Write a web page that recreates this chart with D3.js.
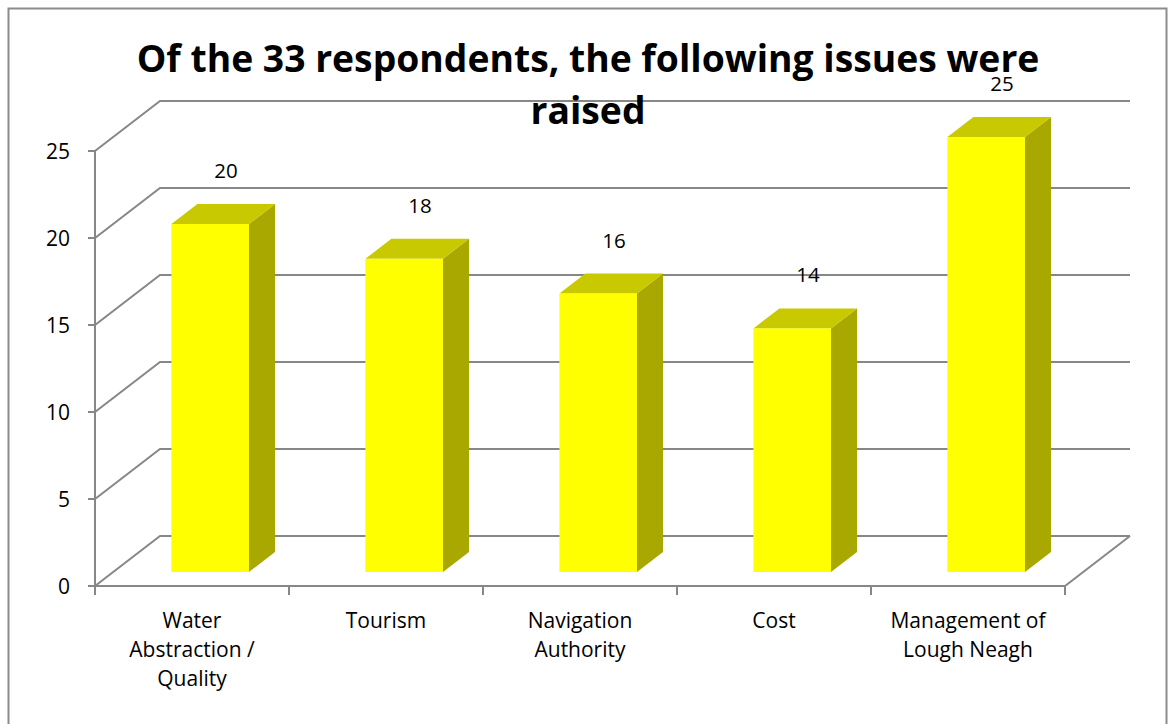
<!DOCTYPE html>
<html>
<head>
<meta charset="utf-8">
<script src="https://cdn.jsdelivr.net/npm/d3@7"></script>
<style>
  body { margin: 0; background: #fff; }
  svg { display: block; }
</style>
</head>
<body>
<svg id="chart" width="1169" height="724"></svg>
<script>
// data
const categories = ["Water Abstraction / Quality", "Tourism", "Navigation Authority", "Cost", "Management of Lough Neagh"];
const categoryLines = [["Water", "Abstraction /", "Quality"], ["Tourism"], ["Navigation", "Authority"], ["Cost"], ["Management of", "Lough Neagh"]];
const values = [20, 18, 16, 14, 25];
const yTicks = [0, 5, 10, 15, 20, 25];
const titleLines = ["Of the 33 respondents, the following issues were", "raised"];

const svg = d3.select("#chart");

const font = "'Open Sans', sans-serif";
const gridColor = "#878787";

// 3d depth offset (whole floor depth)
const depthX = 65, depthY = -50;
const barFront = 0.28, barBack = 0.68;

const x = d3.scaleBand()
  .domain(categories)
  .range([95, 1065])
  .paddingInner(0.6)
  .paddingOuter(0.3);

const y = d3.scaleLinear()
  .domain([0, 25])
  .range([586, 151]);

// outer frame
svg.append("rect")
  .attr("x", 8.5).attr("y", 8.5)
  .attr("width", 1158).attr("height", 740)
  .attr("fill", "none")
  .attr("stroke", "#8c8c8c")
  .attr("stroke-width", 2);

const [xl, xr] = x.range();

// back wall + side wall gridlines
const grid = svg.append("g").attr("stroke", gridColor).attr("stroke-width", 2).attr("fill", "none");
yTicks.forEach(v => {
  grid.append("path")
    .attr("d", d3.line()([[xl, y(v)], [xl + depthX, y(v) + depthY], [xr + depthX, y(v) + depthY]]));
});

// floor front + right edge
grid.append("path")
  .attr("d", d3.line()([[xl, y(0)], [xr, y(0)], [xr + depthX, y(0) + depthY]]));

// y axis line and ticks
grid.append("line")
  .attr("x1", xl).attr("x2", xl)
  .attr("y1", y(25)).attr("y2", y(0));
yTicks.forEach(v => {
  grid.append("line")
    .attr("x1", xl - 7).attr("x2", xl)
    .attr("y1", y(v)).attr("y2", y(v));
});

// x ticks at category boundaries
d3.range(categories.length + 1).forEach(i => {
  const tx = xl + i * x.step();
  grid.append("line")
    .attr("x1", tx).attr("x2", tx)
    .attr("y1", y(0)).attr("y2", y(0) + 9);
});

// y tick labels
svg.append("g")
  .selectAll("text")
  .data(yTicks)
  .join("text")
  .attr("x", 70)
  .attr("y", d => y(d))
  .attr("dy", "0.36em")
  .attr("text-anchor", "end")
  .attr("font-family", font)
  .attr("font-size", 21)
  .attr("fill", "#000")
  .text(d => d);

// bars
const bw = x.bandwidth();
const dxBar = depthX * (barBack - barFront), dyBar = depthY * (barBack - barFront);
const bars = svg.append("g")
  .selectAll("g")
  .data(categories.map((c, i) => ({c, v: values[i]})))
  .join("g");

const fx = d => x(d.c) + depthX * barFront;
const fyBase = y(0) + depthY * barFront;
const fyTop = d => y(d.v) + depthY * barFront;

bars.append("path")
  .attr("fill", "#a8a800")
  .attr("d", d => d3.line()([
    [fx(d) + bw, fyTop(d)], [fx(d) + bw + dxBar, fyTop(d) + dyBar],
    [fx(d) + bw + dxBar, fyBase + dyBar], [fx(d) + bw, fyBase]
  ]) + "Z");

bars.append("path")
  .attr("fill", "#c9c900")
  .attr("d", d => d3.line()([
    [fx(d), fyTop(d)], [fx(d) + bw, fyTop(d)],
    [fx(d) + bw + dxBar, fyTop(d) + dyBar], [fx(d) + dxBar, fyTop(d) + dyBar]
  ]) + "Z");

bars.append("rect")
  .attr("fill", "#ffff00")
  .attr("x", d => fx(d))
  .attr("y", d => fyTop(d))
  .attr("width", bw)
  .attr("height", d => fyBase - fyTop(d));

// data labels
bars.append("text")
  .attr("x", d => x(d.c) + bw / 2 + 34)
  .attr("y", d => fyTop(d) - 46)
  .attr("text-anchor", "middle")
  .attr("font-family", font)
  .attr("font-size", 20.5)
  .attr("fill", "#000")
  .text(d => d.v);

// category labels
const cat = svg.append("g")
  .selectAll("text")
  .data(categories.map((c, i) => ({c, lines: categoryLines[i]})))
  .join("text")
  .attr("text-anchor", "middle")
  .attr("font-family", font)
  .attr("font-size", 21)
  .attr("fill", "#000");
cat.selectAll("tspan")
  .data(d => d.lines.map(l => ({l, cx: x(d.c) + bw / 2})))
  .join("tspan")
  .attr("x", d => d.cx)
  .attr("y", (d, i) => 628 + i * 29)
  .text(d => d.l);

// title
const title = svg.append("g")
  .selectAll("text")
  .data(titleLines)
  .join("text")
  .attr("x", 588)
  .attr("y", (d, i) => 72 + i * 52)
  .attr("text-anchor", "middle")
  .attr("font-family", font)
  .attr("font-weight", "bold")
  .attr("font-size", 36)
  .attr("fill", "#000")
  .text(d => d);

// fit the first title line to the width the original uses
const w0 = title.filter((d, i) => i === 0).node().getComputedTextLength();
title.attr("font-size", 36 * 903 / w0);
</script>
</body>
</html>
